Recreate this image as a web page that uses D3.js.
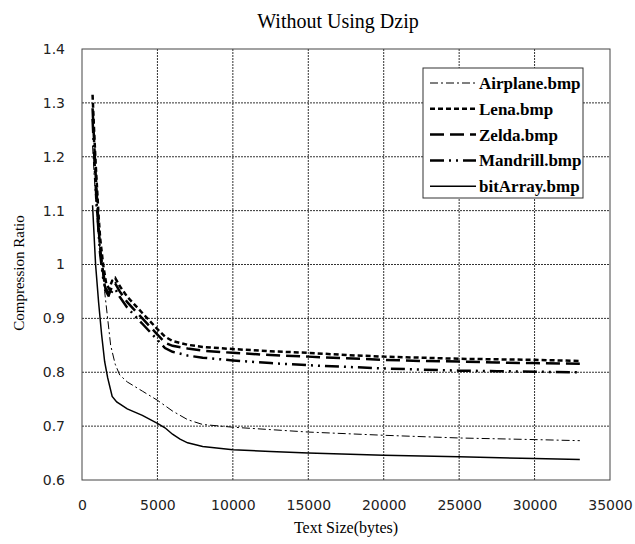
<!DOCTYPE html>
<html>
<head>
<meta charset="utf-8">
<script src="https://cdnjs.cloudflare.com/ajax/libs/d3/7.8.5/d3.min.js"></script>
<style>
  body { margin: 0; background: #fff; }
  .grid line { stroke: #333; stroke-width: 1; stroke-dasharray: 2,1; }
  .tick text { font-family: "DejaVu Sans", sans-serif; font-size: 14px; fill: #222; }
</style>
</head>
<body>
<div id="chart1"></div>
<script>
// x values (text size in bytes), shared by the series sampled at the same points
var sizes = [700, 800, 900, 1000, 1100, 1200, 1400, 1600, 1800, 2000, 2200, 2500, 3000, 3500, 4000, 4500, 5000, 5500, 6000, 7000, 8000, 10000, 12500, 15000, 17500, 20000, 22500, 25000, 27500, 30000, 33000];
var lena     = [1.315, 1.25, 1.19, 1.14, 1.09, 1.05, 1.0, 0.965, 0.955, 0.97, 0.975, 0.96, 0.94, 0.925, 0.91, 0.895, 0.88, 0.866, 0.858, 0.851, 0.847, 0.843, 0.839, 0.836, 0.832, 0.829, 0.827, 0.825, 0.824, 0.823, 0.821];
var zelda    = [1.29, 1.23, 1.17, 1.12, 1.07, 1.03, 0.985, 0.955, 0.945, 0.96, 0.965, 0.95, 0.93, 0.915, 0.9, 0.885, 0.87, 0.855, 0.849, 0.844, 0.84, 0.836, 0.832, 0.829, 0.826, 0.823, 0.821, 0.82, 0.818, 0.817, 0.816];
var mandrill = [1.27, 1.21, 1.15, 1.1, 1.06, 1.02, 0.975, 0.95, 0.94, 0.95, 0.955, 0.94, 0.92, 0.905, 0.89, 0.875, 0.86, 0.845, 0.838, 0.831, 0.827, 0.822, 0.817, 0.813, 0.81, 0.807, 0.805, 0.803, 0.802, 0.801, 0.8];

var sizes2   = [700, 900, 1100, 1300, 1500, 1700, 1900, 2200, 2500, 3000, 4000, 5000, 6000, 7000, 8000, 10000, 15000, 20000, 25000, 30000, 33000];
var airplane = [1.22, 1.12, 1.05, 1.0, 0.95, 0.9, 0.85, 0.815, 0.795, 0.782, 0.765, 0.748, 0.728, 0.712, 0.703, 0.698, 0.689, 0.683, 0.678, 0.675, 0.673];

var sizes3   = [700, 900, 1100, 1300, 1500, 1700, 2000, 2300, 3000, 4000, 5000, 5500, 6000, 6500, 7000, 8000, 10000, 12500, 15000, 20000, 25000, 30000, 33000];
var bitArray = [1.11, 1.0, 0.93, 0.87, 0.82, 0.79, 0.755, 0.745, 0.732, 0.72, 0.705, 0.697, 0.685, 0.676, 0.669, 0.662, 0.656, 0.653, 0.65, 0.646, 0.643, 0.64, 0.638];

var xTicks = [0, 5000, 10000, 15000, 20000, 25000, 30000, 35000];
var yTicks = [0.6, 0.7, 0.8, 0.9, 1, 1.1, 1.2, 1.3, 1.4];

var series = [
  {name: "Airplane.bmp", xs: sizes2, ys: airplane, width: 1, dash: "8,3,2,3"},
  {name: "Lena.bmp", xs: sizes, ys: lena, width: 2.5, dash: "5,3"},
  {name: "Zelda.bmp", xs: sizes, ys: zelda, width: 2.5, dash: "14,6"},
  {name: "Mandrill.bmp", xs: sizes, ys: mandrill, width: 2.5, dash: "14,5,2,5,2,5"},
  {name: "bitArray.bmp", xs: sizes3, ys: bitArray, width: 1.5, dash: null}
];

var w = 635, h = 544;
var margin = {top: 49, right: 25, bottom: 64, left: 82};
var width = w - margin.left - margin.right;
var height = h - margin.top - margin.bottom;

var root = d3.select("#chart1").append("svg")
  .attr("width", w)
  .attr("height", h);
var svg = root.append("g")
  .attr("transform", "translate(" + margin.left + "," + margin.top + ")");

var x = d3.scaleLinear().domain([0, 35000]).range([0, width]);
var y = d3.scaleLinear().domain([0.6, 1.4]).range([height, 0]);

// gridlines
svg.append("g").attr("class", "grid")
  .selectAll("line").data(xTicks.slice(1, -1)).enter().append("line")
  .attr("x1", d => x(d)).attr("x2", d => x(d))
  .attr("y1", 0).attr("y2", height);
svg.append("g").attr("class", "grid")
  .selectAll("line").data(yTicks.slice(1, -1)).enter().append("line")
  .attr("x1", 0).attr("x2", width)
  .attr("y1", d => y(d)).attr("y2", d => y(d));

svg.append("g")
  .attr("transform", "translate(0," + height + ")")
  .call(d3.axisBottom(x).tickValues(xTicks).tickSize(0).tickPadding(20).tickFormat(d3.format("d")))
  .call(g => g.select(".domain").remove());

svg.append("g")
  .call(d3.axisLeft(y).tickValues(yTicks).tickSize(0).tickPadding(17).tickFormat(d => d === 1 ? "1" : d3.format(".1f")(d)))
  .call(g => g.select(".domain").remove());

svg.append("rect")
  .attr("width", width).attr("height", height)
  .attr("fill", "none").attr("stroke", "#444").attr("stroke-width", 1);

var line = d3.line().x(d => x(d[0])).y(d => y(d[1]));

svg.selectAll(".series").data(series).enter().append("path")
  .attr("class", "series")
  .attr("d", s => line(s.xs.map((v, i) => [v, s.ys[i]])))
  .attr("fill", "none")
  .attr("stroke", "#000")
  .attr("stroke-width", s => s.width)
  .attr("stroke-dasharray", s => s.dash);

// legend
var lg = root.append("g").attr("transform", "translate(423,68)");
lg.append("rect").attr("width", 160).attr("height", 130)
  .attr("fill", "#fff").attr("stroke", "#333");
var item = lg.selectAll(".item").data(series).enter().append("g")
  .attr("transform", (d, i) => "translate(0," + (15 + i * 25.8) + ")");
item.append("line")
  .attr("x1", 7).attr("x2", 53)
  .attr("stroke", "#000")
  .attr("stroke-width", d => d.width)
  .attr("stroke-dasharray", d => d.dash);
item.append("text")
  .attr("x", 56).attr("dy", "0.35em")
  .style("font-family", "Liberation Serif, serif")
  .style("font-size", "17px")
  .style("font-weight", "bold")
  .text(d => d.name);

root.append("text")
  .attr("x", 338).attr("y", 28)
  .attr("text-anchor", "middle")
  .style("font-family", "Liberation Serif, serif")
  .style("font-size", "20px")
  .text("Without Using Dzip");

root.append("text")
  .attr("x", margin.left + width / 2).attr("y", 533)
  .attr("text-anchor", "middle")
  .style("font-family", "Liberation Serif, serif")
  .style("font-size", "16px")
  .text("Text Size(bytes)");

root.append("text")
  .attr("transform", "translate(24,273) rotate(-90)")
  .attr("text-anchor", "middle")
  .style("font-family", "Liberation Serif, serif")
  .style("font-size", "15px")
  .text("Compression Ratio");
</script>
</body>
</html>
